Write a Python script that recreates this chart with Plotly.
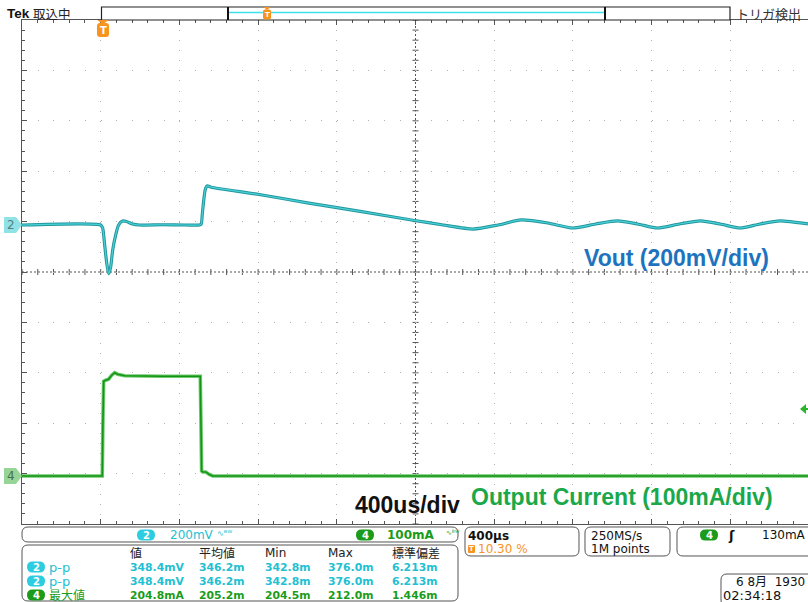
import plotly.graph_objects as go

# ---------------- data ----------------
# time in microseconds relative to trigger, 400 us/div
time_v = [-412, -12, -2, 8, 18, 28, 38, 49, 64, 79, 99, 119, 150, 185, 300, 420, 489, 499,
          504, 509, 519, 529, 550, 793, 1046, 1299, 1583, 1729, 1881, 2008, 2124, 2261, 2387,
          2504, 2615, 2717, 2818, 2929, 3036, 3137, 3238, 3339, 3441, 3583]
# Vout deviation in mV (200 mV/div)
vout_mv = [0, 0, -12, -79, -147, -193, -170, -99, -40, 0, 16, 14, 4, 0, 1, 0, 0, 4,
           40, 79, 139, 155, 150, 121, 87, 55, 18, 0, -16, 0, 20, 8, -12,
           4, 16, 4, -12, 4, 16, 4, -12, 4, 16, 4]

time_i = [-412, -4, -1, 3, 13, 28, 44, 59, 74, 110, 300, 494, 497, 501, 506, 522, 540, 557, 3583]
# output current in mA (100 mA/div)
cur_ma = [0, 0, 100, 188, 190, 192, 200, 205, 202, 199, 198, 198, 120, 10, 8, 8, 3, 0, 0]

# measurement table
col_headers = ["値", "平均値", "Min", "Max", "標準偏差"]
meas_ch = ["2", "2", "4"]
meas_labels = ["p-p", "p-p", "最大値"]
meas_values = [
    ["348.4mV", "346.2m", "342.8m", "376.0m", "6.213m"],
    ["348.4mV", "346.2m", "342.8m", "376.0m", "6.213m"],
    ["204.8mA", "205.2m", "204.5m", "212.0m", "1.446m"],
]

# ---------------- geometry ----------------
W, H = 808, 602
L, R, T, B = 22, 0, 20, 78
pw = W - L - R
ph = H - T - B
BOT = H - B

CYAN = "#22c0d2"
GREEN = "#1a9c1a"
ORANGE = "#f7941d"
JP = "Noto Sans CJK JP"
SANS = "DejaVu Sans, Noto Sans CJK JP"


def P(x, y):
    return f"{(x - L) / pw:.5f},{(BOT - y) / ph:.5f}"


def rrect(x0, y0, x1, y1, r=5):
    return (f"M{P(x0 + r, y0)} L{P(x1 - r, y0)} Q{P(x1, y0)} {P(x1, y0 + r)} "
            f"L{P(x1, y1 - r)} Q{P(x1, y1)} {P(x1 - r, y1)} L{P(x0 + r, y1)} "
            f"Q{P(x0, y1)} {P(x0, y1 - r)} L{P(x0, y0 + r)} Q{P(x0, y0)} {P(x0 + r, y0)} Z")


shapes = []
annotations = []


def box(x0, y0, x1, y1, r=5, line="#555", fill=None, lw=1):
    d = dict(type="path", path=rrect(x0, y0, x1, y1, r), xref="paper", yref="paper",
             line=dict(color=line, width=lw), layer="above")
    if fill:
        d["fillcolor"] = fill
    if lw == 0:
        d["line"] = dict(width=0)
    shapes.append(d)


def poly(pts, fill, line_w=0, color=None):
    path = "M" + " L".join(P(x, y) for x, y in pts) + " Z"
    shapes.append(dict(type="path", path=path, xref="paper", yref="paper", fillcolor=fill,
                       line=dict(width=line_w, color=color or fill), layer="above"))


def seg(x0, y0, x1, y1, color, w=1):
    shapes.append(dict(type="line", xref="paper", yref="paper", x0=(x0 - L) / pw, x1=(x1 - L) / pw,
                       y0=(BOT - y0) / ph, y1=(BOT - y1) / ph, line=dict(color=color, width=w),
                       layer="above"))


def txt(x, y, s, size=12, color="#111", anchor="left", family=SANS, bold=False):
    annotations.append(dict(x=(x - L) / pw, y=(BOT - y) / ph, xref="paper", yref="paper",
                            text=f"<b>{s}</b>" if bold else s, showarrow=False, xanchor=anchor,
                            yanchor="middle", borderpad=0,
                            font=dict(size=size, color=color, family=family)))


def pill(cx, cy, s, fill, w=18, h=11):
    box(cx - w / 2, cy - h / 2, cx + w / 2, cy + h / 2, r=h / 2, fill=fill, lw=0)
    txt(cx, cy, s, 10, "#ffffff", anchor="center", bold=True)


# ---------------- figure ----------------
fig = go.Figure()
fig.add_trace(go.Scatter(x=time_i, y=cur_ma, yaxis="y2", mode="lines",
                         line=dict(color="#6cc96c", width=3.6), hoverinfo="skip"))
fig.add_trace(go.Scatter(x=time_i, y=cur_ma, yaxis="y2", mode="lines",
                         line=dict(color="#149414", width=1.6), hoverinfo="skip"))
fig.add_trace(go.Scatter(x=time_v, y=vout_mv, mode="lines",
                         line=dict(color="#23959d", width=3.2, shape="spline", smoothing=0.6),
                         hoverinfo="skip"))
fig.add_trace(go.Scatter(x=time_v, y=vout_mv, mode="lines",
                         line=dict(color="#48d2d8", width=1.2, shape="spline", smoothing=0.6),
                         hoverinfo="skip"))

x_rng = [-412, -412 + pw * 400 / 78.7]
y_rng = [-(BOT - 225) / (ph / 10) * 200, (225 - T) / (ph / 10) * 200]
y2_rng = [-(BOT - 476) / (ph / 10) * 100, (476 - T) / (ph / 10) * 100]
x_center = -12 + 4 * 400
y_center = y_rng[1] - 5 * 200

# centre cross (dashed) with small tick marks
shapes.append(dict(type="line", xref="x", yref="paper", x0=x_center, x1=x_center, y0=0, y1=1,
                   line=dict(color="#555", width=1, dash="2px,2px"), layer="below"))
shapes.append(dict(type="line", xref="paper", yref="y", x0=0, x1=1, y0=y_center, y1=y_center,
                   line=dict(color="#555", width=1, dash="2px,2px"), layer="below"))
px_t = 400 / 78.7
px_v = 200 / (ph / 10)
p1 = []
k = 0
while y_rng[1] - k * 40 > y_rng[0]:
    yv = y_rng[1] - k * 40
    p1.append(f"M{x_center - 3 * px_t},{yv} L{x_center + 3 * px_t},{yv}")
    k += 1
k = 0
while -412 + k * 80 < x_rng[1]:
    xv = -412 + k * 80
    p1.append(f"M{xv},{y_center - 3 * px_v} L{xv},{y_center + 3 * px_v}")
    k += 1
shapes.append(dict(type="path", xref="x", yref="y", path=" ".join(p1),
                   line=dict(color="#555", width=1), layer="below"))

# ---- top bar ----
txt(6, 13, "Tek", 13.5, "#111", family="Liberation Sans", bold=True)
txt(32, 13, "取込中", 12.5, "#222", family=JP)
txt(735, 13, "トリガ検出", 13, "#333", family=JP)
shapes.append(dict(type="rect", xref="paper", yref="paper", x0=(101.5 - L) / pw, x1=(730 - L) / pw,
                   y0=(BOT - 20) / ph, y1=(BOT - 7) / ph, line=dict(color="#222", width=1.2),
                   fillcolor="white", layer="above"))
seg(229, 12.5, 604, 12.5, "#3fe0ea", 1.6)
seg(228, 7, 228, 20, "#111", 2)
seg(605, 7, 605, 20, "#111", 2)
# trigger position markers
poly([(263.5, 7), (270.5, 7), (267, 10)], ORANGE)
box(263, 9.5, 271, 19.5, r=2, fill=ORANGE, lw=0)
txt(267, 14.5, "T", 7, "#fff", anchor="center", bold=True)
poly([(97, 20), (109, 20), (103, 24)], ORANGE)
box(97, 23, 109, 37, r=3, fill=ORANGE, lw=0)
txt(103, 30, "T", 10, "#fff", anchor="center", bold=True)

# channel tags
poly([(4, 217), (16, 217), (22, 225), (16, 233), (4, 233)], "#8fe2e6")
txt(11, 225, "2", 12, "#557f80", anchor="center")
poly([(4, 468), (16, 468), (22, 476), (16, 484), (4, 484)], "#97d597")
txt(11, 476, "4", 12, "#4a6f4a", anchor="center")
# trigger level arrow (ch4)
poly([(800, 409), (806, 404), (806, 414)], "#2cb52c")
seg(805, 409, 808, 409, "#2cb52c", 2)

# chart labels
txt(583, 258, "Vout (200mV/div)", 23, "#1e73be", family="Liberation Sans", bold=True)
txt(354, 505, "400us/div", 23, "#111", family="Liberation Sans", bold=True)
txt(470, 497, "Output Current (100mA/div)", 23, "#1aa84a", family="Liberation Sans", bold=True)

# ---- bottom panel ----
box(22, 527, 458, 542, r=6)
pill(146, 535, "2", "#2ccde0")
txt(169, 535, "200mV", 12, CYAN)
txt(216, 533, "∿ᴮᵂ", 8, CYAN)
pill(365, 535, "4", GREEN)
txt(386, 535, "100mA", 12, GREEN, bold=True)
txt(445, 533, "∿ᴮᵂ", 7, GREEN)

box(465, 527, 579, 556, r=6)
txt(467, 536, "400µs", 12, "#111", bold=True)
box(468, 545, 475, 553, r=1, fill=ORANGE, lw=0)
txt(471.5, 549, "T", 7, "#fff", anchor="center", bold=True)
txt(477, 549, "10.30 %", 12, ORANGE)

box(585, 527, 670, 556, r=6)
txt(590, 535.5, "250MS/s", 12, "#111")
txt(590, 549, "1M points", 12, "#111")

box(677, 527, 816, 556, r=6)
pill(709, 535, "4", GREEN)
txt(727, 535, "ʃ", 13, "#111", bold=True)
txt(761, 535, "130mA", 12, "#111")

box(22, 545, 458, 601, r=6)
col_x = [129, 198, 264, 327, 391]
for cx, h in zip(col_x, col_headers):
    txt(cx, 553, h, 12, "#222", family=SANS)
row_y = [567, 581, 595]
for ry, ch, lab, vals in zip(row_y, meas_ch, meas_labels, meas_values):
    col = CYAN if ch == "2" else GREEN
    pill(36, ry, ch, "#2ccde0" if ch == "2" else GREEN)
    txt(48, ry, lab, 13 if ch == "2" else 12, col, family=SANS)
    for cx, v in zip(col_x, vals):
        txt(cx, ry, v, 10.8, col, bold=True)

box(721, 574, 816, 606, r=6)
txt(735, 582, "6 8月  1930", 12, "#111")
txt(722, 595, "02:34:18", 13, "#111")

fig.update_layout(
    width=W, height=H, autosize=False,
    margin=dict(l=L, r=R, t=T, b=B, pad=0),
    paper_bgcolor="white", plot_bgcolor="white",
    showlegend=False,
    font=dict(family=SANS, size=12, color="#111"),
    xaxis=dict(range=x_rng, tick0=-12, dtick=400, showgrid=True, gridcolor="#b0b0b0",
               griddash="1px,9.08px", gridwidth=1, showline=True, linecolor="#555", linewidth=1,
               mirror="ticks", ticks="inside", ticklen=5, tickcolor="#555", showticklabels=False,
               zeroline=False, fixedrange=True,
               minor=dict(tick0=-12, dtick=80, ticks="inside", ticklen=3, tickcolor="#555",
                          showgrid=False)),
    yaxis=dict(range=y_rng, tick0=y_rng[1] - 800, dtick=200, showgrid=True, gridcolor="#b0b0b0",
               griddash="1px,14.74px", gridwidth=1, showline=True, linecolor="#555", linewidth=1,
               mirror=False, ticks="inside", ticklen=5, tickcolor="#555", showticklabels=False,
               zeroline=False, fixedrange=True,
               minor=dict(tick0=y_rng[1] - 800, dtick=40, ticks="inside", ticklen=3,
                          tickcolor="#555", showgrid=False)),
    yaxis2=dict(range=y2_rng, overlaying="y", visible=False, fixedrange=True),
    shapes=shapes,
    annotations=annotations,
)

fig.write_html("out.html", config={"displayModeBar": False},
               post_script="document.body.style.margin='0';document.body.style.overflow='hidden';")
